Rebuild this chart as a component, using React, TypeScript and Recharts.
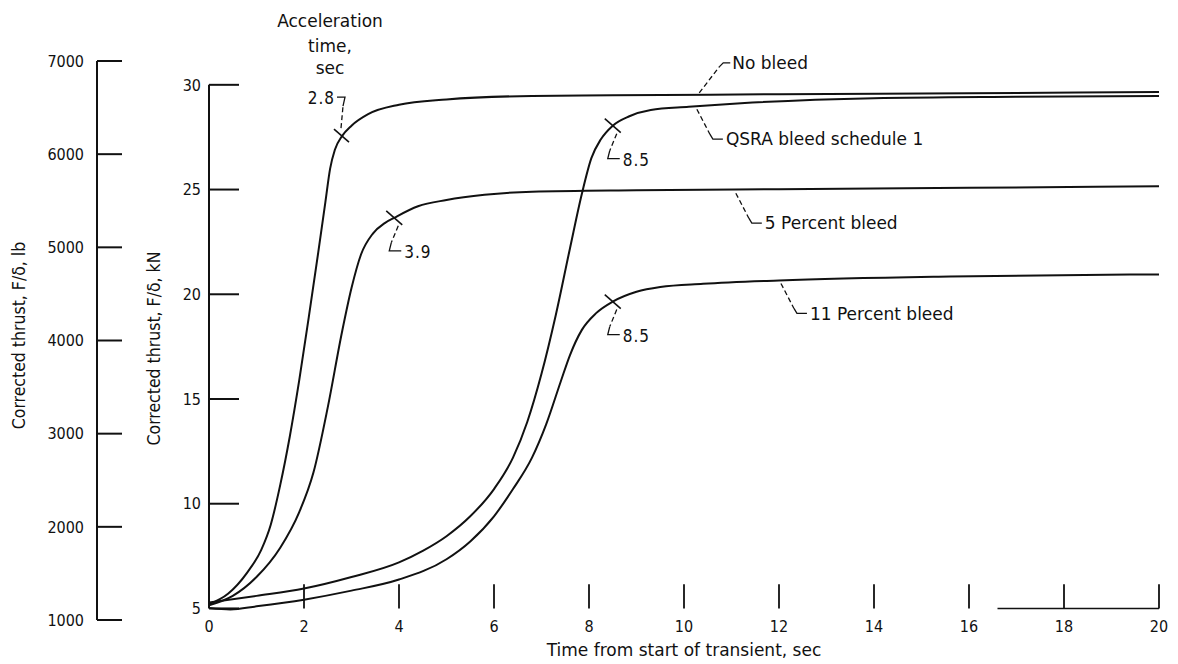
import { LineChart, Line, XAxis, YAxis, ReferenceLine, ReferenceDot } from "recharts"

const LB_PER_KN = 224.809

const timeTicks = [0, 2, 4, 6, 8, 10, 12, 14, 16, 18, 20]
const knTicks = [5, 10, 15, 20, 25, 30]
const lbTicks = [1000, 2000, 3000, 4000, 5000, 6000, 7000]

// thrust transients, kN vs sec
const noBleedTime = [0, 0.4, 0.8, 1.1, 1.3, 1.5, 1.7, 1.9, 2.1, 2.3, 2.45, 2.55, 2.65, 2.8, 3.0, 3.35, 4.0, 5.0, 6.8, 8.5, 12, 16, 20]
const noBleedThrust = [5.2, 5.7, 6.7, 7.8, 9.0, 10.9, 13.2, 15.9, 18.9, 22.0, 24.4, 26.0, 26.9, 27.55, 28.05, 28.6, 29.05, 29.3, 29.47, 29.5, 29.55, 29.6, 29.66]

const bleed5Time = [0, 0.5, 1.0, 1.5, 1.9, 2.2, 2.5, 2.8, 3.0, 3.2, 3.45, 3.7, 3.9, 4.4, 5.0, 5.8, 6.8, 9, 12, 16, 20]
const bleed5Thrust = [5.15, 5.6, 6.5, 7.9, 9.6, 11.5, 14.6, 18.2, 20.3, 21.9, 22.9, 23.4, 23.65, 24.2, 24.5, 24.75, 24.9, 24.97, 25.02, 25.08, 25.16]

const qsraTime = [0, 1, 2, 3, 4, 4.5, 5, 5.5, 6, 6.4, 6.7, 7.0, 7.3, 7.6, 7.85, 8.05, 8.25, 8.5, 8.85, 9.3, 10.1, 11.2, 14, 17, 20]
const qsraThrust = [5.28, 5.6, 5.95, 6.5, 7.2, 7.75, 8.45, 9.4, 10.7, 12.2, 13.9, 16.2, 19.0, 22.2, 24.8, 26.5, 27.4, 28.05, 28.5, 28.8, 28.95, 29.12, 29.36, 29.43, 29.47]

const bleed11Time = [0, 0.45, 1, 2, 3, 4, 5, 5.5, 6, 6.4, 6.8, 7.1, 7.4, 7.6, 7.85, 8.15, 8.5, 9, 9.5, 10.4, 12, 15.6, 20]
const bleed11Thrust = [5.02, 4.95, 5.1, 5.42, 5.85, 6.38, 7.35, 8.2, 9.4, 10.7, 12.2, 13.8, 15.8, 17.1, 18.3, 19.1, 19.65, 20.12, 20.35, 20.5, 20.66, 20.85, 20.95]

// acceleration time marks
const accelTime = [2.8, 3.9, 8.5, 8.5]
const accelThrust = [27.55, 23.65, 28.05, 19.65]

// curve callouts
const seriesNames = ["No bleed", "QSRA bleed schedule 1", "5 Percent bleed", "11 Percent bleed"]
const calloutTime = [10.3, 10.25, 11.07, 12.02]
const calloutThrust = [29.52, 28.98, 24.97, 20.66]

const toPoints = (ts: number[], vs: number[]) => ts.map((t, i) => ({ t, v: vs[i] }))

const INK = "#111"
const numStyle = { fontFamily: "'DejaVu Sans Condensed', 'DejaVu Sans', sans-serif", fontSize: 16, fill: INK }
const wordStyle = { fontFamily: "'DejaVu Sans', sans-serif", fontSize: 17, fill: INK }
const titleStyle = { fontFamily: "'DejaVu Sans Condensed', 'DejaVu Sans', sans-serif", fontSize: 17.5, fill: INK }

function LbTick({ x, y, payload }: any) {
  return (
    <g>
      <line x1={x} y1={y} x2={x + 25} y2={y} stroke={INK} strokeWidth={2} />
      <text x={x - 13} y={y} dy="0.36em" textAnchor="end" {...numStyle}>
        {payload.value}
      </text>
    </g>
  )
}

function KnTick({ x, y, payload }: any) {
  return (
    <g>
      <line x1={x} y1={y} x2={x + 30} y2={y} stroke={INK} strokeWidth={2} />
      <text x={x - 8} y={y} dy="0.36em" textAnchor="end" {...numStyle}>
        {payload.value}
      </text>
    </g>
  )
}

function TimeTick({ x, y, payload }: any) {
  return (
    <text x={x} y={y + 12} textAnchor="middle" {...numStyle}>
      {payload.value}
    </text>
  )
}

const yTitle = (text: string, dx: number, dy: number) => (props: any) => {
  const { x, y, height } = props.viewBox
  const cx = x + dx
  const cy = y + height / 2 + dy
  return (
    <text x={cx} y={cy} transform={`rotate(-90 ${cx} ${cy})`} textAnchor="middle" dy="0.36em" {...titleStyle}>
      {text}
    </text>
  )
}

const dash = { stroke: INK, strokeWidth: 1.3, strokeDasharray: "5 3", fill: "none" }
const solid = { stroke: INK, strokeWidth: 1.3, fill: "none" }

// cross tick with label above-left and the column heading
function MarkAbove({ cx, cy, text }: any) {
  return (
    <g>
      <line x1={cx - 8} y1={cy - 7} x2={cx + 7} y2={cy + 6} stroke={INK} strokeWidth={1.6} />
      <path d={`M${cx - 1},${cy - 8} L${cx + 1},${cy - 30}`} {...dash} />
      <path d={`M${cx + 1},${cy - 30} L${cx + 3},${cy - 39} L${cx - 5},${cy - 39}`} {...solid} />
      <text x={cx - 7} y={cy - 38} dy="0.36em" textAnchor="end" {...numStyle} fontSize={17} letterSpacing={1}>
        {text}
      </text>
      <text textAnchor="middle" {...wordStyle}>
        <tspan x={cx - 12} y={cy - 115} dy="0.36em">Acceleration</tspan>
        <tspan x={cx - 12} y={cy - 90} dy="0.36em">time,</tspan>
        <tspan x={cx - 12} y={cy - 68} dy="0.36em">sec</tspan>
      </text>
    </g>
  )
}

// cross tick with label below-right
function MarkBelow({ cx, cy, text }: any) {
  return (
    <g>
      <line x1={cx - 8} y1={cy - 7} x2={cx + 8} y2={cy + 7} stroke={INK} strokeWidth={1.6} />
      <path d={`M${cx + 4},${cy + 8} L${cx - 3},${cy + 25}`} {...dash} />
      <path d={`M${cx - 3},${cy + 25} L${cx - 5},${cy + 33} L${cx + 7},${cy + 33}`} {...solid} />
      <text x={cx + 10} y={cy + 34} dy="0.36em" {...numStyle} fontSize={17} letterSpacing={1}>
        {text}
      </text>
    </g>
  )
}

function CalloutUp({ cx, cy, text }: any) {
  return (
    <g>
      <path d={`M${cx + 1},${cy - 2} L${cx + 21},${cy - 28}`} {...dash} />
      <path d={`M${cx + 21},${cy - 28} L${cx + 25},${cy - 32} L${cx + 32},${cy - 32}`} {...solid} />
      <text x={cx + 34} y={cy - 32} dy="0.36em" {...wordStyle}>
        {text}
      </text>
    </g>
  )
}

function CalloutDown({ cx, cy, text }: any) {
  return (
    <g>
      <path d={`M${cx + 1},${cy + 3} L${cx + 14},${cy + 28}`} {...dash} />
      <path d={`M${cx + 14},${cy + 28} L${cx + 17},${cy + 33} L${cx + 27},${cy + 33}`} {...solid} />
      <text x={cx + 30} y={cy + 33} dy="0.36em" {...wordStyle}>
        {text}
      </text>
    </g>
  )
}

const series = [
  toPoints(noBleedTime, noBleedThrust),
  toPoints(qsraTime, qsraThrust),
  toPoints(bleed5Time, bleed5Thrust),
  toPoints(bleed11Time, bleed11Thrust),
]

export default function App() {
  return (
    <div style={{ position: "fixed", left: 0, top: 0, background: "#fff" }}>
      <LineChart width={1178} height={664} margin={{ top: 61, right: 19, bottom: 0, left: 0 }}>
        <XAxis
          type="number"
          dataKey="t"
          domain={[0, 20]}
          ticks={timeTicks}
          interval={0}
          axisLine={false}
          tickLine={false}
          tickSize={0}
          tickMargin={0}
          tick={<TimeTick />}
          height={44}
          allowDataOverflow
          label={{ value: "Time from start of transient, sec", position: "insideBottom", offset: 8, ...wordStyle }}
        />
        <YAxis
          yAxisId="kn"
          type="number"
          domain={[1000 / LB_PER_KN, 7000 / LB_PER_KN]}
          ticks={knTicks}
          interval={0}
          allowDataOverflow
          width={112}
          axisLine={false}
          tickLine={false}
          tickSize={0}
          tickMargin={0}
          tick={<KnTick />}
          label={{ content: yTitle("Corrected thrust, F/δ, kN", 57, 8) }}
        />
        <YAxis
          yAxisId="lb"
          type="number"
          domain={[1000, 7000]}
          ticks={lbTicks}
          interval={0}
          allowDataOverflow
          width={97}
          axisLine={{ stroke: INK, strokeWidth: 2 }}
          tickLine={false}
          tickSize={0}
          tickMargin={0}
          tick={<LbTick />}
          label={{ content: yTitle("Corrected thrust, F/δ, lb", 19, -5) }}
        />

        <ReferenceLine yAxisId="kn" segment={[{ x: 0, y: 5 }, { x: 0, y: 30 }]} stroke={INK} strokeWidth={2} />
        {timeTicks.slice(1).map((t) => (
          <ReferenceLine key={t} yAxisId="kn" segment={[{ x: t, y: 5 }, { x: t, y: 6.15 }]} stroke={INK} strokeWidth={1.8} />
        ))}
        <ReferenceLine yAxisId="kn" segment={[{ x: 16.6, y: 5 }, { x: 20, y: 5 }]} stroke={INK} strokeWidth={1.6} />

        {series.map((d, i) => (
          <Line
            key={seriesNames[i]}
            yAxisId="kn"
            data={d}
            dataKey="v"
            type="monotone"
            dot={false}
            stroke={INK}
            strokeWidth={2}
            isAnimationActive={false}
          />
        ))}

        {accelTime.map((t, i) => (
          <ReferenceDot
            key={`a${i}`}
            yAxisId="kn"
            x={t}
            y={accelThrust[i]}
            shape={(p: any) =>
              i === 0 ? <MarkAbove cx={p.cx} cy={p.cy} text={t.toFixed(1)} /> : <MarkBelow cx={p.cx} cy={p.cy} text={t.toFixed(1)} />
            }
          />
        ))}

        {seriesNames.map((name, i) => (
          <ReferenceDot
            key={name}
            yAxisId="kn"
            x={calloutTime[i]}
            y={calloutThrust[i]}
            shape={(p: any) =>
              i === 0 ? <CalloutUp cx={p.cx} cy={p.cy} text={name} /> : <CalloutDown cx={p.cx} cy={p.cy} text={name} />
            }
          />
        ))}
      </LineChart>
    </div>
  )
}
